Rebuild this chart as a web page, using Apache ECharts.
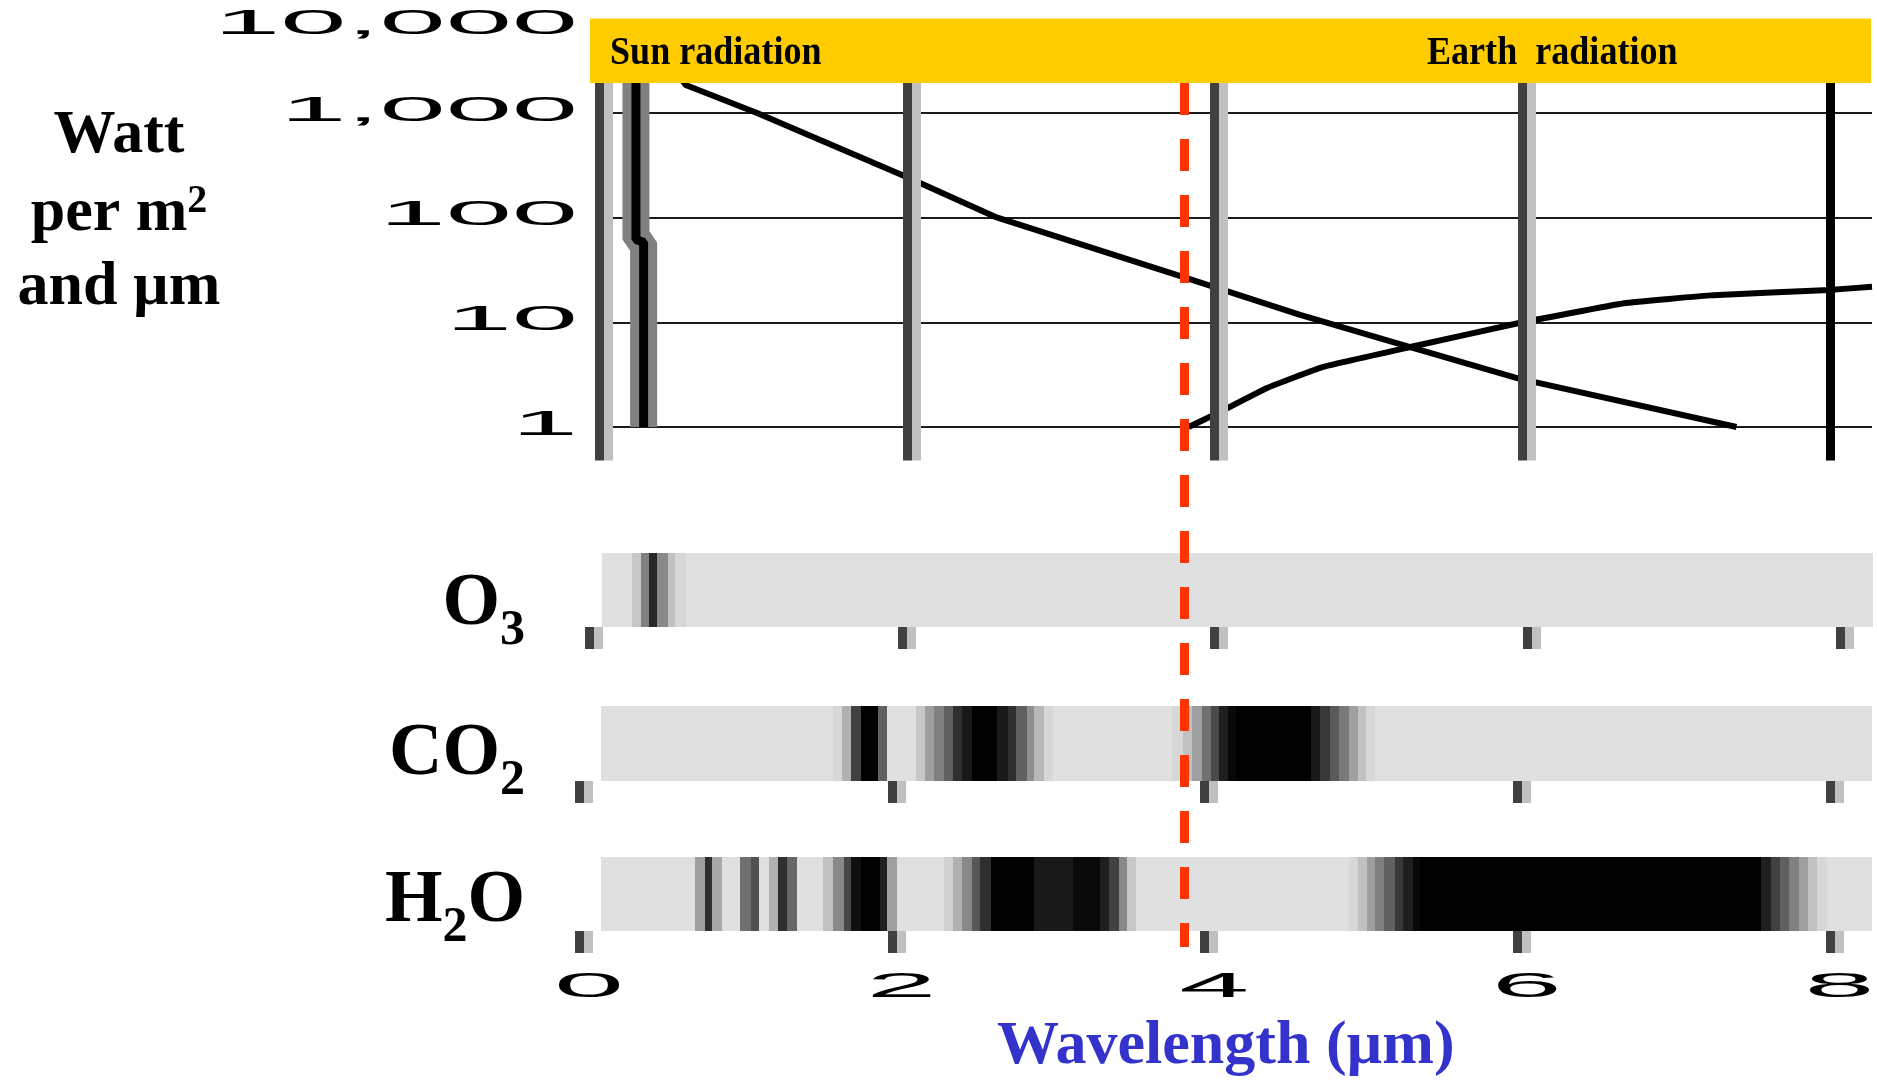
<!DOCTYPE html>
<html>
<head>
<meta charset="utf-8">
<title>Sun and Earth radiation and atmospheric absorption</title>
<script src="https://cdn.jsdelivr.net/npm/echarts@6/dist/echarts.min.js"></script>
<style>
  html, body { margin: 0; padding: 0; background: #fff; }
  #main { width: 1877px; height: 1081px; }
</style>
</head>
<body>
<div id="main"></div>
<script>
// Wavelength ticks (µm) and intensity ticks (W per m² and µm)
const xTicks = [0, 2, 4, 6, 8];
const xTickLabels = ['0', '2', '4', '6', '8'];
const yTicks = [1, 10, 100, 1000, 10000];
const yTickLabels = ['1', '10', '100', '1,000', '10,000'];

// Wavelength that separates sun radiation from earth radiation (µm)
const boundaryWavelength = 3.8;

// Spectral intensity curves: [wavelength µm, W per m² and µm]
const sunUvEdge = [[0.29, 1], [0.29, 58], [0.24, 62], [0.24, 2000]];
const sunSpectrum = [
  [0.24, 2000], [0.36, 5000], [0.563, 1850], [1.027, 1000], [1.995, 246], [2.573, 102],
  [3.788, 27.3], [4.555, 11.8], [5.27, 5.8], [5.97, 2.92], [7.39, 1.0]
];
const earthSpectrum = [
  [3.83, 1.0], [4.02, 1.36], [4.34, 2.36], [4.70, 3.74], [5.27, 5.81], [5.97, 9.8],
  [6.66, 15.2], [7.24, 18.2], [7.99, 20.4], [8.27, 21.9]
];

// Absorption bands: [from µm, to µm, absorbed fraction]
const o3Absorption = [
  [0.08, 8.21, 0],
  [0.27, 0.33, 0.11], [0.33, 0.38, 0.43], [0.38, 0.43, 0.82],
  [0.43, 0.50, 0.39], [0.50, 0.55, 0.14], [0.55, 0.62, 0.04]
];
const co2Absorption = [
  [0.14, 8.27, 0],
  [1.62, 1.68, 0.04], [1.68, 1.74, 0.21], [1.74, 1.80, 0.71], [1.80, 1.91, 1], [1.91, 1.97, 0.57],
  [2.15, 2.21, 0.11], [2.21, 2.27, 0.29], [2.27, 2.33, 0.43], [2.33, 2.39, 0.57], [2.39, 2.45, 0.79],
  [2.45, 2.51, 0.89], [2.51, 2.67, 1], [2.67, 2.74, 0.89], [2.74, 2.79, 0.79], [2.79, 2.86, 0.57],
  [2.86, 2.91, 0.36], [2.91, 2.97, 0.18], [2.97, 3.03, 0.04],
  [3.79, 3.86, 0.04], [3.86, 3.92, 0.14], [3.92, 3.98, 0.29], [3.98, 4.04, 0.5], [4.04, 4.09, 0.67],
  [4.09, 4.15, 0.86], [4.15, 4.20, 0.96], [4.20, 4.68, 1], [4.68, 4.74, 0.89], [4.74, 4.80, 0.75],
  [4.80, 4.86, 0.6], [4.86, 4.92, 0.46], [4.92, 4.98, 0.29], [4.98, 5.03, 0.14], [5.03, 5.09, 0.04]
];
const h2oAbsorption = [
  [0.14, 8.27, 0],
  [0.74, 0.80, 0.29], [0.80, 0.85, 0.79], [0.85, 0.91, 0.25],
  [1.03, 1.10, 0.5], [1.10, 1.15, 0.64],
  [1.21, 1.27, 0.21], [1.27, 1.33, 0.79], [1.33, 1.39, 0.54],
  [1.56, 1.62, 0.14], [1.62, 1.69, 0.39], [1.69, 1.74, 0.68], [1.74, 1.80, 0.93], [1.80, 1.92, 1],
  [1.92, 1.97, 0.86], [1.97, 2.03, 0.29],
  [2.33, 2.39, 0.07], [2.39, 2.45, 0.21], [2.45, 2.51, 0.39], [2.51, 2.56, 0.61], [2.56, 2.63, 0.79],
  [2.63, 2.91, 1], [2.91, 3.16, 0.89], [3.16, 3.33, 0.96], [3.33, 3.39, 0.86], [3.39, 3.45, 0.71],
  [3.45, 3.50, 0.39], [3.50, 3.56, 0.11],
  [4.92, 4.98, 0.04], [4.98, 5.04, 0.14], [5.04, 5.09, 0.29], [5.09, 5.15, 0.43], [5.15, 5.22, 0.57],
  [5.22, 5.27, 0.75], [5.27, 5.33, 0.86], [5.33, 5.38, 0.96], [5.38, 7.56, 1],
  [7.56, 7.62, 0.86], [7.62, 7.68, 0.71], [7.68, 7.74, 0.57], [7.74, 7.80, 0.43], [7.80, 7.86, 0.29],
  [7.86, 7.92, 0.14], [7.92, 7.98, 0.04]
];

const SERIF = '"Liberation Serif", "Times New Roman", serif';
const SANS = '"Liberation Sans", Arial, sans-serif';

// Axis ranges
const Y_MIN = 0.48, Y_MAX = 7700;
const X_MAX_TOP = 8.27, X_MAX_O3 = 8.205, X_MAX_BAND = 8.269;

const chart = echarts.init(document.getElementById('main'));

function hiddenAxis(gridIndex, extra) {
  return Object.assign({
    type: 'value', gridIndex, show: false,
    axisLine: { show: false }, axisTick: { show: false }, axisLabel: { show: false }, splitLine: { show: false }
  }, extra);
}

function bandXAxis(gridIndex, max, extra) {
  return Object.assign({
    type: 'value', gridIndex, min: 0, max, interval: 2,
    axisLine: { show: false },
    axisLabel: { show: false },
    splitLine: { show: false },
    axisTick: {
      show: true, inside: false, length: 22, customValues: xTicks,
      lineStyle: { color: '#404040', width: 9, shadowColor: '#c0c0c0', shadowBlur: 0, shadowOffsetX: 9 }
    }
  }, extra);
}

function bandSeries(name, data, axisIndex) {
  return {
    name, type: 'custom', xAxisIndex: axisIndex, yAxisIndex: axisIndex,
    data, silent: true, animation: false,
    encode: { x: [0, 1] },
    renderItem(params, api) {
      const a = api.coord([api.value(0), 1]);
      const b = api.coord([api.value(1), 0]);
      const g = Math.round(224 * (1 - api.value(2)));
      const x0 = Math.round(a[0]);
      const x1 = Math.round(b[0]);
      return {
        type: 'rect',
        shape: { x: x0, y: a[1], width: x1 - x0, height: b[1] - a[1] },
        style: { fill: 'rgb(' + g + ',' + g + ',' + g + ')' }
      };
    }
  };
}

function curve(name, data, color, width, z, smooth) {
  return {
    name, type: 'line', xAxisIndex: 0, yAxisIndex: 0, data,
    symbol: 'none', showSymbol: false, smooth: smooth || false, silent: true, z,
    lineStyle: { color, width }
  };
}

const gridLineStyle = { color: '#404040', width: 9, type: 'solid', shadowColor: '#c0c0c0', shadowBlur: 0, shadowOffsetX: 9 };
const lastGridLineStyle = { color: '#000', width: 9, type: 'solid' };

const option = {
  backgroundColor: '#fff',
  animation: false,
  grid: [
    { left: 599, right: 5, top: 20.2, bottom: 620.6, outerBoundsMode: 'none' },
    { left: 589.5, right: 5, top: 553, height: 74, outerBoundsMode: 'none' },
    { left: 579.5, right: 5, top: 706, height: 75, outerBoundsMode: 'none' },
    { left: 579.5, right: 5, top: 857, height: 74, outerBoundsMode: 'none' },
    { left: 599, right: 5, top: 83, height: 864, outerBoundsMode: 'none' }
  ],
  xAxis: [
    hiddenAxis(0, { min: 0, max: X_MAX_TOP }),
    bandXAxis(1, X_MAX_O3),
    bandXAxis(2, X_MAX_BAND),
    bandXAxis(3, X_MAX_BAND, {
      offset: 2,
      name: 'Wavelength (µm)', nameLocation: 'middle', nameGap: 83,
      nameTextStyle: { color: '#3333cc', fontFamily: SERIF, fontWeight: 'bold', fontSize: 62 }
    }),
    hiddenAxis(4, { min: 0, max: X_MAX_TOP })
  ],
  yAxis: [
    {
      type: 'log', gridIndex: 0, logBase: 10, min: Y_MIN, max: Y_MAX,
      axisLine: { show: false }, axisTick: { show: false }, axisLabel: { show: false },
      splitLine: { show: true, showMinLine: false, showMaxLine: false, lineStyle: { color: '#1a1a1a', width: 2 } }
    },
    hiddenAxis(1, { min: 0, max: 1 }),
    hiddenAxis(2, { min: 0, max: 1 }),
    hiddenAxis(3, { min: 0, max: 1 }),
    hiddenAxis(4, { min: 0, max: 1, inverse: true })
  ],
  series: [
    {
      name: 'Wavelength grid', type: 'line', xAxisIndex: 0, yAxisIndex: 0, data: [], z: 1, silent: true,
      markLine: {
        silent: true, animation: false, symbol: ['none', 'none'], label: { show: false },
        emphasis: { disabled: true },
        data: xTicks.map((v, i) => ({
          xAxis: v,
          lineStyle: i === xTicks.length - 1 ? lastGridLineStyle : gridLineStyle
        }))
      }
    },
    curve('Sun UV edge halo', sunUvEdge, '#808080', 27, 3),
    curve('Sun UV edge', sunUvEdge, '#000', 9, 4),
    curve('Sun radiation', sunSpectrum, '#000', 6, 4),
    curve('Earth radiation', earthSpectrum, '#000', 6, 4, 0.1),
    bandSeries('O3', o3Absorption, 1),
    bandSeries('CO2', co2Absorption, 2),
    bandSeries('H2O', h2oAbsorption, 3),
    {
      name: 'Sun / earth boundary', type: 'line', xAxisIndex: 4, yAxisIndex: 4, data: [], z: 10, silent: true,
      markLine: {
        silent: true, animation: false, symbol: ['none', 'none'], label: { show: false },
        emphasis: { disabled: true },
        lineStyle: { color: '#ff3300', width: 9, type: [32, 24], dashOffset: 0 },
        data: [{ xAxis: boundaryWavelength }]
      }
    }
  ]
};

chart.setOption(option);

// Titles, band header and stretched tick labels
const boldSerif = (size) => ({ fontFamily: SERIF, fontWeight: 'bold', fontSize: size, fill: '#000' });
const elements = [
  { type: 'rect', z: 100, shape: { x: 590, y: 18.5, width: 1281, height: 64.5 }, style: { fill: '#ffcc00' } },
  { type: 'text', z: 101, x: 610, y: 53.5, scaleX: 0.88,
    style: Object.assign(boldSerif(41), { text: 'Sun radiation', align: 'left', verticalAlign: 'middle' }) },
  { type: 'text', z: 101, x: 1427, y: 53.5, scaleX: 0.88,
    style: Object.assign(boldSerif(41), { text: 'Earth  radiation', align: 'left', verticalAlign: 'middle' }) },

  { type: 'text', z: 101, x: 119, y: 136,
    style: Object.assign(boldSerif(62), { text: 'Watt', align: 'center', verticalAlign: 'middle' }) },
  { type: 'text', z: 101, x: 119, y: 245,
    style: {
      text: '{a|per m}{p|2}', align: 'center', verticalAlign: 'bottom',
      rich: {
        a: Object.assign(boldSerif(62), { verticalAlign: 'bottom' }),
        p: Object.assign(boldSerif(40), { verticalAlign: 'bottom', padding: [0, 0, 23, 0] })
      }
    } },
  { type: 'text', z: 101, x: 119, y: 288,
    style: Object.assign(boldSerif(62), { text: 'and µm', align: 'center', verticalAlign: 'middle' }) }
];

const gasRich = {
  b: Object.assign(boldSerif(74), { verticalAlign: 'bottom', padding: [0, 0, 14, 0] }),
  s: Object.assign(boldSerif(50), { verticalAlign: 'bottom' })
};
[['{b|O}{s|3}', 656], ['{b|CO}{s|2}', 806], ['{b|H}{s|2}{b|O}', 953]].forEach(([text, y]) => {
  elements.push({ type: 'text', z: 101, x: 525, y,
    style: { text, align: 'right', verticalAlign: 'bottom', rich: gasRich } });
});

const tickFont = { fontFamily: SANS, fontSize: 35, fill: '#000' };
yTicks.forEach((v, i) => {
  const inRange = v <= Y_MAX;
  const py = chart.convertToPixel({ yAxisIndex: 0 }, Math.min(v, Y_MAX));
  elements.push({ type: 'text', z: 101, x: 578, y: inRange ? py - 2 : py + 4, scaleX: 3.4,
    style: Object.assign({}, tickFont, { text: yTickLabels[i], align: 'right', verticalAlign: 'middle' }) });
});
xTicks.forEach((v, i) => {
  const px = chart.convertToPixel({ xAxisIndex: 3 }, v);
  elements.push({ type: 'text', z: 101, x: px + 9.5, y: 987, scaleX: 3.6,
    style: Object.assign({}, tickFont, { text: xTickLabels[i], align: 'center', verticalAlign: 'middle' }) });
});

chart.setOption({ graphic: { elements } });
</script>
</body>
</html>
